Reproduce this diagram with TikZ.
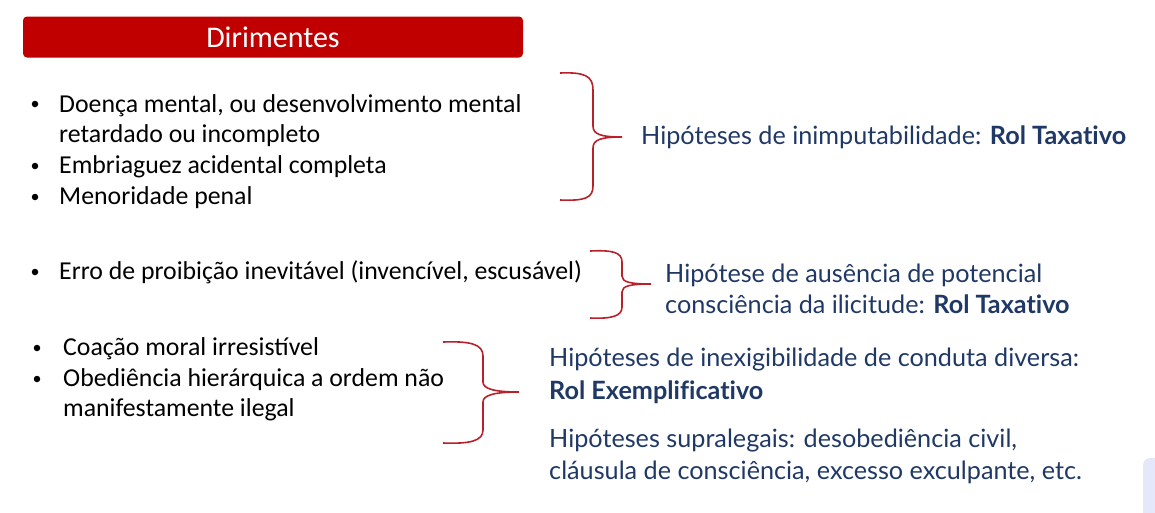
\documentclass[tikz,border=0pt]{standalone}
\usepackage{fontspec}
\setmainfont{Carlito}
\newfontfamily\rfont[Ligatures=NoCommon]{Lato}
\definecolor{titlered}{HTML}{C00000}
\definecolor{bracered}{HTML}{B8202A}
\definecolor{navy}{HTML}{1F3866}
\definecolor{lav}{HTML}{E4E8FA}
\begin{document}
\begin{tikzpicture}[x=1pt,y=-1pt,
  lefttxt/.style={anchor=base west,inner sep=0pt,font=\fontsize{25.8}{30}\selectfont,text=black},
  righttxt/.style={anchor=base west,inner sep=0pt,font=\rfont\fontsize{25.2}{30}\selectfont,text=navy},
  bul/.style={circle,fill=black,inner sep=0pt,minimum size=6.5pt},
  brace/.style={draw=bracered,line width=1.6pt}]
\useasboundingbox (0,0) rectangle (1155,512);
\fill[lav,rounded corners=7pt] (1143,458) rectangle (1175,530);
% title
\node[fill=titlered,rounded corners=4pt,minimum width=500pt,minimum height=41pt,inner sep=0pt,
  text=white,font=\fontsize{30}{36}\selectfont] (title) at (273,37) {Dirimentes};
% group 1
\node[bul] (b1) at (35,104) {};
\node[lefttxt] (t1) at (59,112) {Doença mental, ou desenvolvimento mental};
\node[lefttxt] (t1b) at (59,142) {retardado ou incompleto};
\node[bul] (b2) at (35,166) {};
\node[lefttxt] (t2) at (59,173) {Embriaguez acidental completa};
\node[bul] (b3) at (35,197) {};
\node[lefttxt] (t3) at (59,204) {Menoridade penal};
% group 2
\node[bul] (b4) at (35,272) {};
\node[lefttxt] (t4) at (59,279) {Erro de proibição inevitável (invencível, escusável)};
% group 3
\node[bul] (b5) at (37,348) {};
\node[lefttxt] (t5) at (63,355) {Coação moral irresistível};
\node[bul] (b6) at (37,379) {};
\node[lefttxt] (t6) at (63,386) {Obediência hierárquica a ordem não};
\node[lefttxt] (t6b) at (63,416) {manifestamente ilegal};
% braces
\coordinate (p1) at (622,137);
\draw[brace] (560,73) .. controls (585,72) and (593,76) .. (593,90) -- (593,126)
  .. controls (593,134) and (600,137) .. (p1)
  .. controls (600,137) and (593,140) .. (593,148) -- (593,186)
  .. controls (593,198) and (585,201) .. (560,200);
\coordinate (p2) at (651,284);
\draw[brace] (590,251) .. controls (612,250) and (622,252) .. (622,262) -- (622,276)
  .. controls (622,282) and (630,284) .. (p2)
  .. controls (630,284) and (622,286) .. (622,292) -- (622,307)
  .. controls (622,316) and (612,319) .. (590,318);
\coordinate (p3) at (519,392);
\draw[brace] (443,342) .. controls (470,341) and (483,344) .. (483,356) -- (483,382)
  .. controls (483,389) and (495,392) .. (p3)
  .. controls (495,392) and (483,395) .. (483,402) -- (483,430)
  .. controls (483,441) and (470,444) .. (443,443);
% right texts
\node[righttxt] (r1) at (641,144) {Hipóteses de inimputabilidade: \textbf{Rol Taxativo}};
\node[righttxt] (r2) at (665,282) {Hipótese de ausência de potencial};
\node[righttxt] (r2b) at (665,313) {consciência da ilicitude: \textbf{Rol Taxativo}};
\node[righttxt] (r3) at (549,366) {Hipóteses de inexigibilidade de conduta diversa:};
\node[righttxt] (r3b) at (549,399) {\textbf{Rol Exemplificativo}};
\node[righttxt] (r4) at (549,447) {Hipóteses supralegais: desobediência civil,};
\node[righttxt] (r4b) at (549,479) {cláusula de consciência, excesso exculpante, etc.};
\end{tikzpicture}
\end{document}
